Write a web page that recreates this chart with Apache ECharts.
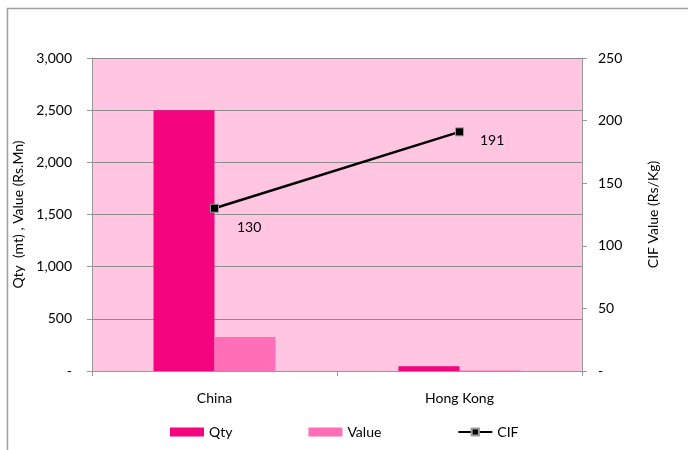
<!DOCTYPE html>
<html>
<head>
<meta charset="utf-8">
<script src="https://cdn.jsdelivr.net/npm/echarts@6/dist/echarts.min.js"></script>
<style>html,body{margin:0;padding:0;background:#fff}#c{width:688px;height:450px}</style>
</head>
<body>
<div id="c"></div>
<script>
const categories = ['China', 'Hong Kong'];
const qty = [2500, 45];
const value = [325, 5];
const cif = [130, 191];
const leftTicks = [0, 500, 1000, 1500, 2000, 2500, 3000];
const rightTicks = [0, 50, 100, 150, 200, 250];

const chart = echarts.init(document.getElementById('c'), null, {renderer: 'canvas'});
const font = 'Lato, "Open Sans", sans-serif';
const fmt = v => v === 0 ? '-' : v.toLocaleString('en-US');
chart.setOption({
  animation: false,
  textStyle: {fontFamily: font},
  graphic: [{
    type: 'rect', silent: true,
    shape: {x: 7.5, y: 8.5, width: 720, height: 520},
    style: {fill: 'none', stroke: '#a0a0a0', lineWidth: 1.5}
  }],
  grid: {left: 92, right: 106, top: 58, bottom: 79, show: true, backgroundColor: '#FFC5E1', borderWidth: 0},
  legend: {
    bottom: 6, left: 165, itemGap: 76, itemWidth: 34, itemHeight: 9,
    textStyle: {fontSize: 14, color: '#000', fontFamily: font},
    data: [
      {name: 'Qty', icon: 'rect'},
      {name: 'Value', icon: 'rect'},
      {name: 'CIF'}
    ]
  },
  xAxis: {
    type: 'category', data: categories,
    axisLine: {lineStyle: {color: '#999'}},
    axisTick: {show: true, length: 5, lineStyle: {color: '#999'}},
    axisLabel: {color: '#000', fontSize: 14, margin: 20, fontFamily: font}
  },
  yAxis: [{
    type: 'value', min: 0, max: 3000, interval: 500,
    name: 'Qty  (mt) , Value (Rs.Mn)', nameLocation: 'middle', nameGap: 66, nameRotate: 90,
    nameTextStyle: {fontSize: 14, color: '#000', fontFamily: font},
    axisLine: {show: true, lineStyle: {color: '#999'}},
    axisTick: {show: true, length: 5, lineStyle: {color: '#999'}},
    axisLabel: {color: '#000', fontSize: 14, margin: 20, formatter: fmt, fontFamily: font},
    splitLine: {lineStyle: {color: '#8c8c8c', width: 1}}
  }, {
    type: 'value', min: 0, max: 250, interval: 50, position: 'right',
    name: 'CIF Value (Rs/Kg)', nameLocation: 'middle', nameGap: 64, nameRotate: 90,
    nameTextStyle: {fontSize: 14, color: '#000', fontFamily: font},
    axisLine: {show: true, lineStyle: {color: '#999'}},
    axisTick: {show: true, length: 5, lineStyle: {color: '#999'}},
    axisLabel: {color: '#000', fontSize: 14, margin: 16, formatter: fmt, fontFamily: font},
    splitLine: {show: false}
  }],
  series: [{
    name: 'Qty', type: 'bar', data: qty, barWidth: 61, barGap: '0%',
    itemStyle: {color: '#F5047F'}
  }, {
    name: 'Value', type: 'bar', data: value, barWidth: 61, barGap: '0%',
    itemStyle: {color: '#FF6EB6'}
  }, {
    name: 'CIF', type: 'line', yAxisIndex: 1, data: [
      {value: cif[0], label: {offset: [4, 19]}},
      {value: cif[1], label: {offset: [2, 9]}}
    ],
    symbol: 'rect', symbolSize: 8,
    itemStyle: {color: '#000', borderColor: '#999', borderWidth: 1},
    lineStyle: {color: '#000', width: 2.5},
    label: {show: true, position: 'right', distance: 14, color: '#000', fontSize: 14, fontFamily: font}
  }]
});
</script>
</body>
</html>
